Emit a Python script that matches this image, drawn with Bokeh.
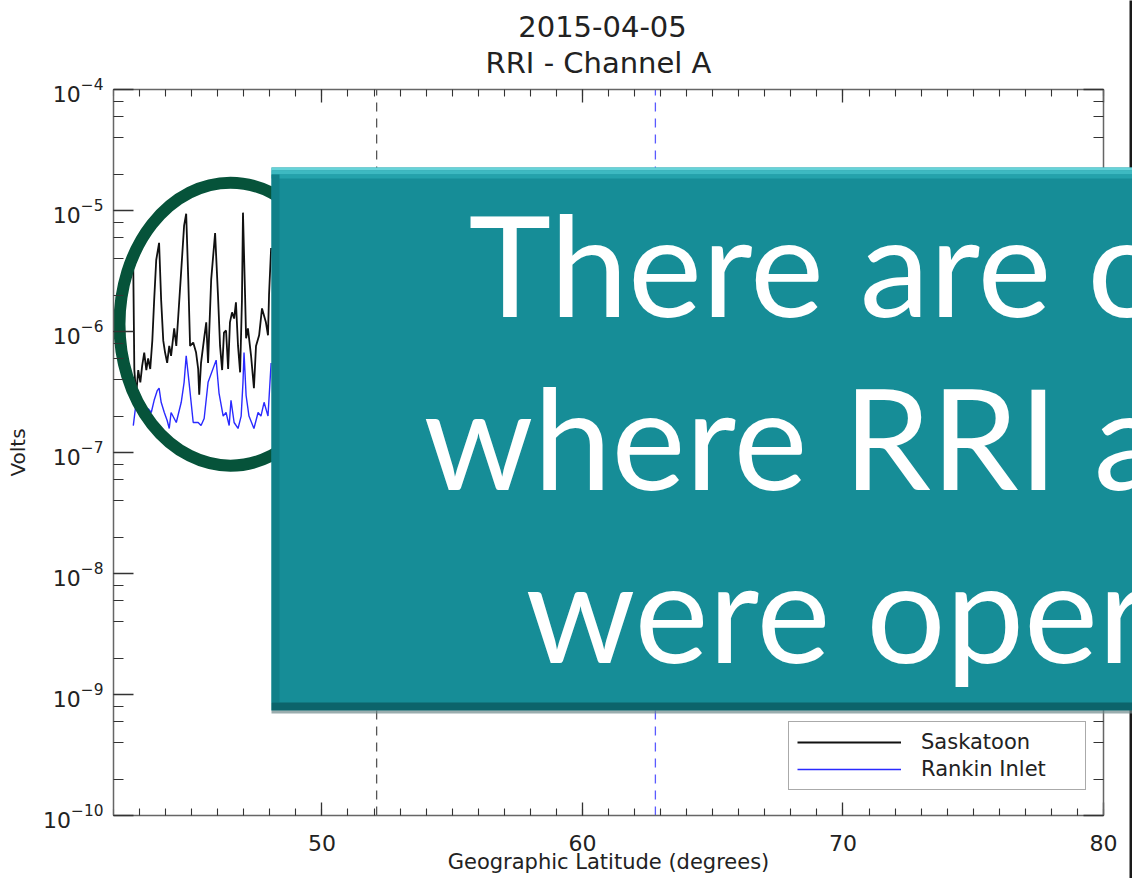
from bokeh.plotting import figure
from bokeh.models import (LinearAxis, LogAxis, Label, BoxAnnotation, Legend, LegendItem,
                          SingleIntervalTicker, LogTicker, Range1d, CustomJSTickFormatter)
from bokeh.embed import file_html
from bokeh.resources import INLINE

# ---------------- data ----------------
title_date = "2015-04-05"
title_channel = "RRI - Channel A"
x_label = "Geographic Latitude (degrees)"
y_label = "Volts"
series_names = ["Saskatoon", "Rankin Inlet"]

lat_min, lat_max = 42.0, 80.0          # plot box extent
volt_min, volt_max = 1e-10, 1e-4

lat_sask = [42.76, 42.80, 42.87, 42.95, 43.03, 43.10, 43.18, 43.26, 43.33, 43.41,
            43.49, 43.56, 43.64, 43.75, 43.83, 43.91, 43.98, 44.06, 44.14, 44.21,
            44.33, 44.41, 44.48, 44.60, 44.71, 44.79, 44.87, 44.94, 45.06, 45.17,
            45.25, 45.29, 45.36, 45.48, 45.56, 45.63, 45.75, 45.90, 46.01, 46.09,
            46.17, 46.24, 46.32, 46.40, 46.47, 46.55, 46.63, 46.70, 46.78, 46.86,
            46.93, 46.97, 47.05, 47.09, 47.16, 47.28, 47.39, 47.47, 47.59, 47.70,
            47.85, 47.93, 47.97, 48.05]
volts_sask = [3.2e-6, 4.8e-7, 3.0e-7, 4.8e-7, 3.8e-7, 5.2e-7, 6.7e-7, 4.8e-7, 6.0e-7, 4.9e-7,
              8.4e-7, 1.8e-6, 3.9e-6, 5.4e-6, 1.8e-6, 8.4e-7, 6.7e-7, 5.5e-7, 7.6e-7, 6.3e-7,
              1.06e-6, 7.6e-7, 1.28e-6, 3.2e-6, 7.5e-6, 9.4e-6, 2.7e-6, 7.6e-7, 8.1e-7, 6.7e-7,
              4.9e-7, 3.0e-7, 5.5e-7, 8.8e-7, 1.19e-6, 5.5e-7, 2.7e-6, 6.5e-6, 2.0e-6, 7.6e-7,
              4.8e-7, 9.8e-7, 1.02e-6, 4.9e-7, 1.19e-6, 1.44e-6, 1.28e-6, 1.74e-6, 7.6e-7, 4.6e-7,
              1.8e-6, 9.6e-6, 2.0e-6, 8.8e-7, 1.06e-6, 6.3e-7, 3.4e-7, 7.6e-7, 9.3e-7, 1.55e-6,
              1.19e-6, 9.3e-7, 2.0e-6, 4.9e-6]

lat_rankin = [42.76, 42.87, 42.99, 43.10, 43.18, 43.33, 43.45, 43.56, 43.68, 43.75,
              43.83, 43.95, 44.06, 44.14, 44.21, 44.41, 44.60, 44.71, 44.79, 44.90,
              45.06, 45.25, 45.36, 45.48, 45.63, 45.94, 46.05, 46.21, 46.32, 46.44,
              46.51, 46.63, 46.78, 46.90, 46.97, 47.01, 47.09, 47.20, 47.39, 47.55,
              47.66, 47.78, 47.93, 48.05]
volts_rankin = [1.67e-7, 2.6e-7, 2.14e-7, 2.44e-7, 2.0e-7, 2.3e-7, 2.14e-7, 2.7e-7, 3.25e-7, 3.4e-7,
                2.6e-7, 2.14e-7, 1.84e-7, 1.58e-7, 2.14e-7, 1.77e-7, 2.6e-7, 3.8e-7, 6.3e-7, 3.8e-7,
                1.77e-7, 1.77e-7, 1.67e-7, 1.91e-7, 3.8e-7, 5.8e-7, 3.1e-7, 2.0e-7, 2.14e-7, 1.67e-7,
                2.7e-7, 1.77e-7, 1.58e-7, 2.0e-7, 3.8e-7, 6.7e-7, 2.96e-7, 2.0e-7, 1.58e-7, 2.14e-7,
                2.0e-7, 2.6e-7, 2.0e-7, 5.5e-7]

site_lats = [52.1, 62.8]            # dashed reference latitudes
site_colors = ["#555555", "#5a5aff"]

highlight_lat = 46.49               # centre of circled region
highlight_volts = 1.15e-6

overlay_lines = ["There are o", "where RRI a", "were oper"]

# ---------------- figure ----------------
W, H = 1132, 878
BOX_L, BOX_R, BOX_T, BOX_B = 113, 1103, 89, 815   # plot-box position in the canvas
ppd = (BOX_R - BOX_L) / (lat_max - lat_min)
ppdec = (BOX_B - BOX_T) / 6.0
x_start = lat_min - BOX_L / ppd
x_end = lat_max + (W - BOX_R) / ppd
y_start = 10 ** (-10 - (H - BOX_B) / ppdec)
y_end = 10 ** (-4 + BOX_T / ppdec)

p = figure(width=W, height=H, output_backend="svg", toolbar_location=None,
           x_range=Range1d(x_start, x_end), y_range=Range1d(y_start, y_end),
           y_axis_type="log", x_axis_location=None, y_axis_location=None,
           min_border=0)
p.xgrid.visible = False
p.ygrid.visible = False
p.outline_line_color = None
p.background_fill_color = "white"
p.border_fill_color = "white"

FONT = "DejaVu Sans"


def style_axis(ax, major_in, minor_in):
    ax.axis_line_color = "#666666"
    ax.axis_line_width = 1.5
    ax.major_tick_in = major_in
    ax.major_tick_out = 0
    ax.minor_tick_in = minor_in
    ax.minor_tick_out = 0
    ax.major_tick_line_color = "#333333"
    ax.minor_tick_line_color = "#333333"
    ax.major_tick_line_width = 1.3
    ax.minor_tick_line_width = 1.1
    ax.major_label_text_font = FONT
    ax.major_label_text_color = "#222222"
    ax.axis_label_text_font = FONT
    ax.axis_label_text_font_style = "normal"
    ax.axis_label_text_color = "#222222"


blank = CustomJSTickFormatter(code="return ''")

bottom_ax = LinearAxis(ticker=SingleIntervalTicker(interval=10, num_minor_ticks=10),
                       fixed_location=volt_min, bounds=(lat_min, lat_max), axis_label=x_label)
style_axis(bottom_ax, 13, 7)
bottom_ax.major_label_text_font_size = "22px"
bottom_ax.major_label_standoff = 19
bottom_ax.axis_label_text_font_size = "21px"
bottom_ax.axis_label_standoff = -4
p.add_layout(bottom_ax, "below")

top_ax = LinearAxis(ticker=SingleIntervalTicker(interval=10, num_minor_ticks=10),
                    fixed_location=volt_max, bounds=(lat_min, lat_max), formatter=blank)
style_axis(top_ax, 13, 7)
p.add_layout(top_ax, "above")

left_ax = LogAxis(ticker=LogTicker(desired_num_ticks=8), fixed_location=lat_min,
                  bounds=(volt_min, volt_max), axis_label=y_label)
style_axis(left_ax, 20, 10)
left_ax.major_label_text_font_size = "22px"
left_ax.major_label_standoff = 10
left_ax.axis_label_text_font_size = "20px"
left_ax.axis_label_standoff = 10
p.add_layout(left_ax, "left")

right_ax = LogAxis(ticker=LogTicker(desired_num_ticks=8), fixed_location=lat_max,
                   bounds=(volt_min, volt_max), formatter=blank)
style_axis(right_ax, 20, 10)
p.add_layout(right_ax, "right")

# ---------------- data lines ----------------
r_sask = p.line(lat_sask, volts_sask, line_color="#111111", line_width=1.8)
r_rank = p.line(lat_rankin, volts_rankin, line_color="#2a2aff", line_width=1.4)

p.segment(x0=site_lats, y0=[volt_min] * len(site_lats), x1=site_lats, y1=[volt_max] * len(site_lats),
          line_color=site_colors, line_width=1.3, line_dash="9 7")

# highlight ellipse
p.ellipse(x=[highlight_lat], y=[highlight_volts], width=222, height=283,
          width_units="screen", height_units="screen",
          fill_color=None, line_color="#06533a", line_width=12)


# ---------------- overlay (slide call-out) ----------------
def sy(fig_y):
    return H - fig_y


def box(l, r, t, b, color, alpha=1.0):
    p.add_layout(BoxAnnotation(left=l, right=r, top=sy(t), bottom=sy(b),
                               left_units="screen", right_units="screen",
                               top_units="screen", bottom_units="screen",
                               fill_color=color, fill_alpha=alpha, line_color=None))


box(1129, 1140, -20, 900, "#1a1a1a")          # slide edge
box(271, 1145, 167, 710, "#168d97")            # call-out body
box(271, 1145, 167, 170, "#66d3d9")
box(271, 1145, 170, 174, "#3db9c1")
box(271, 1145, 174, 178, "#24a2ab")
box(271, 279, 174, 702, "#118089")
box(271, 1145, 702, 710, "#0c646b")
box(271, 1145, 710, 713, "#6f8a8c", 0.7)

BASE_SHIFT = 0.385   # Label's alphabetic baseline lands this many em low
OVER_SIZE = 140
for txt, fx, fy in zip(overlay_lines, [468, 423, 525], [316, 489, 662]):
    p.add_layout(Label(x=fx, y=sy(fy - BASE_SHIFT * OVER_SIZE), x_units="screen", y_units="screen",
                       text=txt, text_font="Lato", text_font_size=f"{OVER_SIZE}px",
                       text_color="white", text_align="left", text_baseline="alphabetic"))

# titles
TITLE_SIZE = 29
for txt, cx, by in zip([title_date, title_channel], [602, 598], [37, 74]):
    p.add_layout(Label(x=cx, y=sy(by - BASE_SHIFT * TITLE_SIZE), x_units="screen", y_units="screen",
                       text=txt, text_font=FONT, text_font_size=f"{TITLE_SIZE}px",
                       text_color="#222222", text_align="center", text_baseline="alphabetic"))

# legend
legend = Legend(items=[LegendItem(label=series_names[0], renderers=[r_sask]),
                       LegendItem(label=series_names[1], renderers=[r_rank])],
                location=(788, sy(790)), orientation="vertical",
                border_line_color="#555555", border_line_width=1.5,
                background_fill_color="white", background_fill_alpha=1.0,
                padding=8, spacing=3, margin=0,
                glyph_width=104, glyph_height=22, label_height=22, label_width=156,
                label_standoff=20, label_text_font=FONT, label_text_font_size="21px",
                label_text_color="#222222")
p.add_layout(legend)

open("out.html", "w").write(file_html(p, INLINE))
